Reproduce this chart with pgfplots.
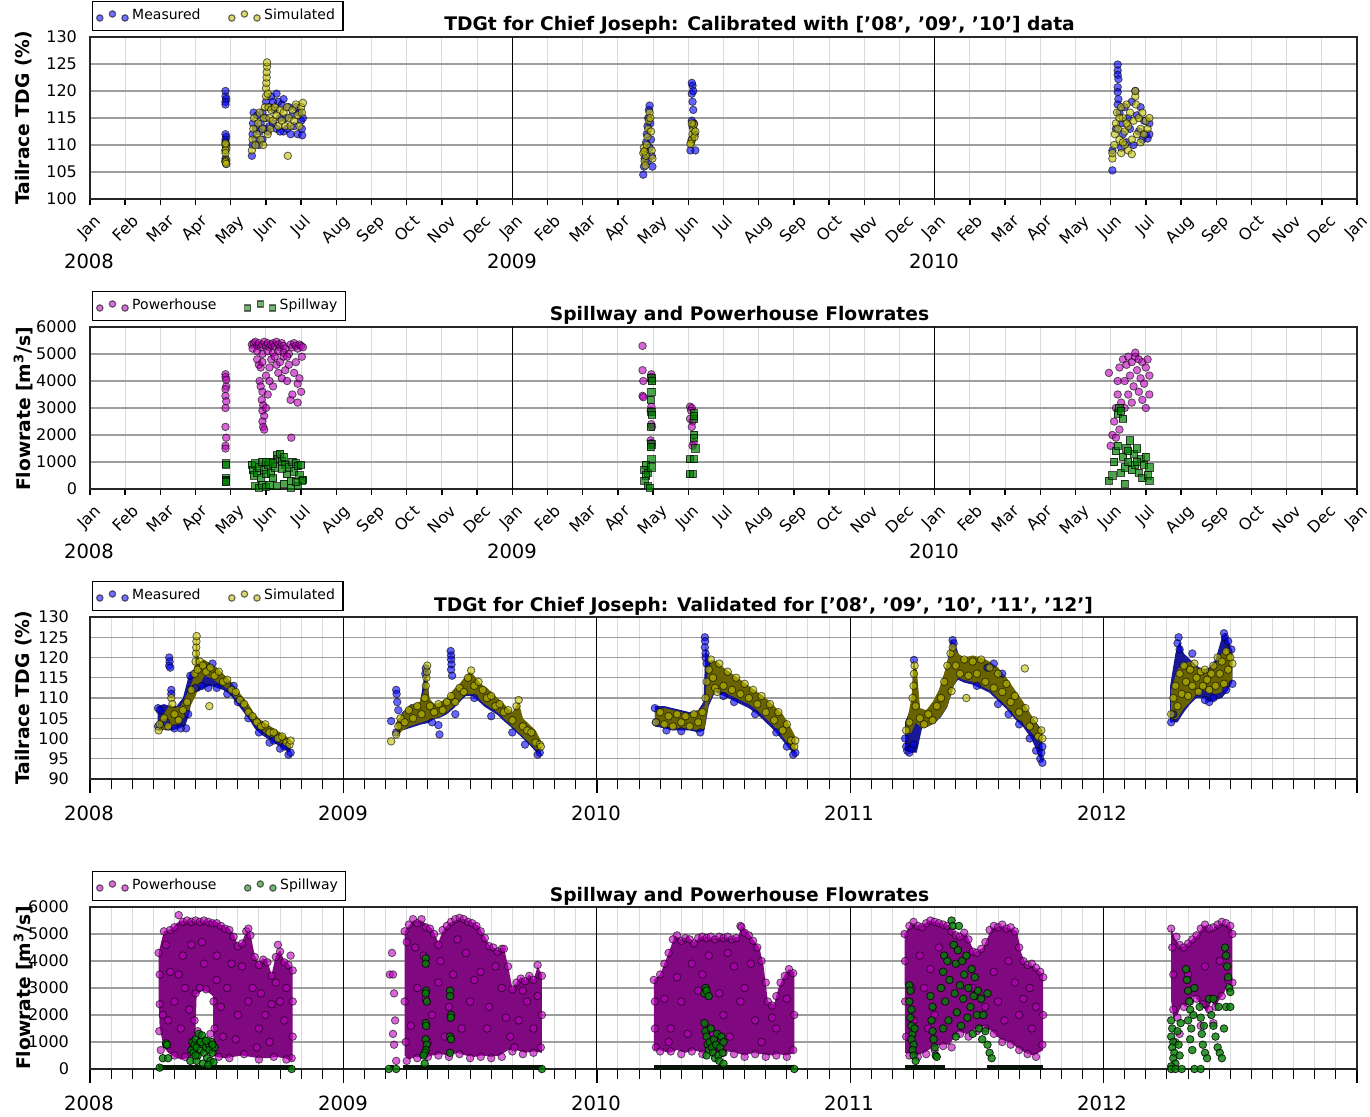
\documentclass[border=0pt]{standalone}
\usepackage{fontspec}
\setmainfont{DejaVu Sans}
\usepackage{graphicx}
\usepackage{pgfplots}
\pgfplotsset{compat=1.18}
\definecolor{myel}{rgb}{0.75,0.75,0}
\definecolor{mmag}{rgb}{0.75,0,0.75}
\definecolor{mgreen}{rgb}{0,0.5,0}
\definecolor{dblue}{RGB}{25,25,150}
\definecolor{dyel}{RGB}{105,100,0}
\definecolor{dmag}{RGB}{128,8,128}
\definecolor{zeroc}{RGB}{8,20,8}
\newcommand{\rb}[1]{\rotatebox{45}{#1}}
\pgfplotsset{
  base/.style={scale only axis, width=633.5pt, height=81pt,
    axis line style={black!85, line width=0.9pt},
    ymajorgrids, major grid style={black!38, line width=0.6pt},
    xminorgrids, minor grid style={black!14, line width=0.5pt},
    ytick style={draw=none},
    tick label style={font=\fontsize{8}{9}\selectfont},
    /pgf/number format/assume math mode=true, /pgf/number format/1000 sep={},
    scaled y ticks=false, xtick pos=bottom, tick align=outside,
    major tick style={black, line width=0.7pt}, minor tick style={black, line width=0.5pt},
    legend style={at={(0.0016,1.037)}, anchor=south west, draw=black, line width=0.6pt,
      font=\fontsize{7}{8.5}\selectfont, inner xsep=2pt, inner ysep=1.8pt, legend columns=2,
      /tikz/every even column/.append style={column sep=12pt}},
    legend cell align=left,
    legend image code/.code={\draw[##1] plot coordinates {(0pt,-1pt)(6.3pt,1pt)(12.6pt,-1pt)};},
  },
  meas/.style={only marks, mark=*, mark size=1.9pt, mark options={draw=black, fill=blue, opacity=0.6}, forget plot},
  sim/.style={only marks, mark=*, mark size=1.9pt, mark options={draw=black, fill=myel, opacity=0.6}, forget plot},
  ph/.style={only marks, mark=*, mark size=1.9pt, mark options={draw=black, fill=mmag, opacity=0.6}, forget plot},
  sp/.style={only marks, mark=*, mark size=1.9pt, mark options={draw=black, fill=mgreen, opacity=0.8}, forget plot},
  spsq/.style={only marks, mark=square*, mark size=1.8pt, mark options={draw=black, fill=mgreen, opacity=0.7}, forget plot},
  measL/.style={only marks, mark=*, mark size=1.6pt, mark options={draw=black, fill=blue, opacity=0.55}},
  simL/.style={only marks, mark=*, mark size=1.6pt, mark options={draw=black, fill=myel, opacity=0.55}},
  phL/.style={only marks, mark=*, mark size=1.6pt, mark options={draw=black, fill=mmag, opacity=0.55}},
  spL/.style={only marks, mark=*, mark size=1.6pt, mark options={draw=black, fill=mgreen, opacity=0.55}},
  spsqL/.style={only marks, mark=square*, mark size=1.5pt, mark options={draw=black, fill=mgreen, opacity=0.55}},
  yearline/.style={black, line width=0.5pt, forget plot},
  dense/.style={draw=none, fill=#1, forget plot},
  zeroline/.style={zeroc, line width=3.8pt, forget plot},
  months/.style={xmin=0, xmax=36, xtick={0,...,36}, minor xtick={0,...,36}, minor tick length=0pt, major tick length=3pt,
    xticklabels={\rb{Jan},\rb{Feb},\rb{Mar},\rb{Apr},\rb{May},\rb{Jun},\rb{Jul},\rb{Aug},\rb{Sep},\rb{Oct},\rb{Nov},\rb{Dec},\rb{Jan},\rb{Feb},\rb{Mar},\rb{Apr},\rb{May},\rb{Jun},\rb{Jul},\rb{Aug},\rb{Sep},\rb{Oct},\rb{Nov},\rb{Dec},\rb{Jan},\rb{Feb},\rb{Mar},\rb{Apr},\rb{May},\rb{Jun},\rb{Jul},\rb{Aug},\rb{Sep},\rb{Oct},\rb{Nov},\rb{Dec},\rb{Jan}},
    x tick label style={anchor=north, yshift=-1pt}},
  years/.style={xmin=0, xmax=60, xtick={0,12,...,60}, minor xtick={0,...,60}, xticklabels={},
    major tick length=7pt, minor tick length=5pt},
}
\newcommand{\ttl}{\bfseries\fontsize{9.35}{11}\selectfont}
\newcommand{\yr}{\fontsize{9.8}{11}\selectfont}
\begin{document}
\begin{tikzpicture}
\useasboundingbox (0,0) rectangle (685pt,-558.5pt);
%================ Panel 1
\begin{axis}[base, months, at={(45pt,-18.5pt)}, anchor=north west, ymin=100, ymax=130, ytick={100,105,...,130}]
\addlegendimage{measL}\addlegendentry{Measured}
\addlegendimage{simL}\addlegendentry{Simulated}
\addplot[yearline] coordinates {(12,100)(12,130)};
\addplot[yearline] coordinates {(24,100)(24,130)};
\addplot[meas] coordinates {(3.85,120)(3.85,119)(3.87,118.5)(3.85,118)(3.85,117.5)(3.85,112)(3.87,111.5)(3.85,111)(3.85,110.5)(3.87,110)(3.85,109)(3.85,107.5)(3.85,107)(3.87,106.5)
(4.6,108)(4.62,110)(4.62,112)(4.63,114)(4.65,116)(4.7,111)(4.72,113)(4.75,115.5)(4.8,110)(4.82,112.5)(4.85,114)(4.9,116)(4.9,111)(4.95,113)(5.0,118)(5.0,115)(5.05,112.5)(5.1,117)(5.15,119)(5.2,114)(5.25,116.5)(5.3,119.5)(5.3,113)(5.35,118)(5.4,115)(5.45,117.5)(5.5,112.5)(5.5,118.5)(5.55,115)(5.6,113)(5.65,117)(5.7,112)(5.75,115.5)(5.8,113.5)(5.85,117)(5.9,112)(5.95,116)(6.0,114.5)(6.03,111.8)(6.05,115)(6.02,113)(5.4,112.5)(5.2,118)(5.1,113.5)
(15.72,104.5)(15.74,106)(15.76,107.5)(15.78,109)(15.8,110.5)(15.82,112)(15.84,113.5)(15.86,115)(15.88,116.5)(15.9,117.3)(15.92,114)(15.94,111)(15.96,108)(15.98,106)(15.9,109.5)(15.85,107)
(17.06,109)(17.2,109)(17.1,111)(17.12,113.5)(17.1,114.5)(17.14,116.5)(17.12,118)(17.1,119.5)(17.12,121)(17.1,121.5)(17.14,120)(17.16,114)(17.18,112)
(29.05,105.3)(29.05,109)(29.2,124.9)(29.2,123.8)(29.2,123)(29.22,122.2)(29.2,120.7)(29.2,119.8)(29.22,118.5)(29.2,117.5)(29.25,116)(29.3,114)(29.35,112)(29.4,117)(29.45,110.5)(29.5,115)(29.55,113)(29.6,118)(29.65,110)(29.7,120)(29.75,115.5)(29.8,112.5)(29.85,117)(29.9,111)(29.95,114.5)(30.0,112)(30.05,111.2)(30.1,112)(30.1,114)(29.3,109.5)(29.15,113)};
\addplot[sim] coordinates {(3.85,110)(3.87,109.5)(3.85,109)(3.85,108.5)(3.87,107.2)(3.85,107)(3.85,106.8)(3.87,106.5)(3.85,110.3)
(4.6,109)(4.62,111)(4.64,113)(4.66,115)(4.7,110)(4.74,112)(4.78,114)(4.82,116)(4.85,111)(4.9,113)(4.95,115)(4.97,117)(5.0,119)(5.0,120.5)(5.01,121.5)(5.02,122.5)(5.02,123.5)(5.03,124.5)(5.03,125.3)(5.05,119.5)(5.07,117)(5.1,115)(5.12,113)(5.15,116.5)(5.2,114.5)(5.25,117)(5.3,115.5)(5.35,113.5)(5.4,116.5)(5.45,114.5)(5.5,116)(5.55,113.5)(5.62,108)(5.6,117)(5.65,115)(5.7,113.5)(5.75,116.5)(5.8,114.5)(5.85,117.5)(5.9,115.5)(5.95,113.5)(6.0,117)(6.02,116)(6.05,117.8)(5.05,112)(4.92,110)
(15.72,108.5)(15.74,109.5)(15.76,107)(15.78,106.2)(15.8,108)(15.82,110)(15.84,111.5)(15.86,113)(15.88,114.5)(15.9,116)(15.92,115)(15.94,112.5)(15.96,109)(15.98,107.5)(15.75,108.8)
(17.08,110.5)(17.1,111)(17.12,112)(17.14,113)(17.16,113.8)(17.1,114)(17.18,111.5)(17.2,112.5)(17.06,110.2)
(29.05,107.5)(29.05,108.5)(29.1,110)(29.12,112)(29.15,114)(29.18,116)(29.2,113)(29.25,111)(29.3,117)(29.3,108.5)(29.35,115)(29.4,112.5)(29.4,110)(29.45,117.5)(29.5,109)(29.5,113.5)(29.55,116)(29.6,111)(29.6,108.3)(29.65,114.5)(29.7,119)(29.7,120)(29.72,117.5)(29.75,112)(29.8,115)(29.85,110.5)(29.85,113)(29.9,116)(29.95,112)(30.0,114.5)(30.05,113)(30.1,115)(29.25,115)(29.35,110.5)(29.45,114)};
\end{axis}
%================ Panel 2
\begin{axis}[base, months, at={(45pt,-163.5pt)}, anchor=north west, ymin=0, ymax=6000, ytick={0,1000,...,6000}]
\addlegendimage{phL}\addlegendentry{Powerhouse}
\addlegendimage{spsqL}\addlegendentry{Spillway}
\addplot[yearline] coordinates {(12,0)(12,6000)};
\addplot[yearline] coordinates {(24,0)(24,6000)};
\addplot[ph] coordinates {(3.85,4250)(3.85,4150)(3.87,3800)(3.85,3700)(3.85,3450)(3.87,3250)(3.85,3000)(3.85,2300)(3.87,1900)(3.85,1600)(3.85,1500)(3.87,4050)
(4.6,5350)(4.65,5400)(4.7,5450)(4.75,5300)(4.8,5400)(4.85,5250)(4.9,5350)(4.95,5450)(5.0,5300)(5.05,5400)(5.1,5250)(5.15,5350)(5.2,5400)(5.25,5300)(5.3,5450)(5.35,5350)(5.4,5250)(5.45,5400)(5.5,5300)(5.55,5200)(5.7,5350)(5.75,5250)(5.8,5400)(5.85,5300)(5.9,5200)(5.95,5350)(6.0,5300)(6.05,5250)
(4.62,5200)(4.75,5100)(4.9,5000)(5.05,5100)(5.2,5050)(5.35,5100)(5.5,5050)(5.65,5000)
(4.8,4600)(4.85,4500)(4.9,4700)(4.82,4000)(4.85,3800)(4.9,3600)(4.88,3300)(4.92,3100)(4.9,2900)(4.95,2700)(4.9,2500)(4.92,2300)(4.95,2200)(5.0,3000)(5.05,3500)(5.0,4200)(5.1,4500)(5.15,4800)(5.2,3800)(5.3,4600)(5.35,4300)(5.4,4700)(5.45,4100)(5.5,4900)(5.55,4400)(5.6,4000)(5.65,4600)(5.7,3300)(5.72,1900)(5.75,3500)(5.8,4300)(5.85,4700)(5.9,3900)(5.95,4100)(6.0,3600)(6.02,4900)(5.9,3200)(5.6,4900)(5.25,4900)(5.1,4000)(4.75,4800)
(15.7,5300)(15.7,4400)(15.72,4000)(15.7,3450)(15.72,3400)(15.95,4250)(15.95,4150)(15.97,4050)(15.95,3050)(15.93,2900)(15.95,2400)(15.97,2300)(15.93,1800)(15.95,1650)(15.95,1700)
(17.05,3050)(17.1,3000)(17.05,2600)(17.12,2500)(17.1,2300)(17.15,1700)(17.12,1600)(17.08,2900)
(28.95,4300)(29.0,1600)(29.05,2000)(29.1,2500)(29.15,3000)(29.2,3500)(29.2,4000)(29.25,4500)(29.3,3200)(29.35,4800)(29.4,4000)(29.45,4600)(29.5,3500)(29.5,4900)(29.55,4200)(29.6,4700)(29.65,3800)(29.7,4900)(29.75,4400)(29.8,3600)(29.8,4800)(29.85,4100)(29.9,4700)(29.95,3900)(30.0,4500)(30.05,4800)(30.1,4200)(30.1,3500)(29.25,2200)(29.4,3000)(29.6,3200)(29.9,3300)(29.7,5050)(30.0,3000)(29.15,1900)};
\addplot[spsq] coordinates {(3.85,950)(3.87,900)(3.85,400)(3.85,350)(3.87,300)(3.85,250)
(4.6,900)(4.62,700)(4.65,500)(4.7,950)(4.75,600)(4.8,800)(4.85,400)(4.9,1000)(4.95,700)(5.0,550)(5.05,900)(5.1,1000)(5.15,600)(5.2,400)(5.25,800)(5.3,1250)(5.35,1100)(5.4,1300)(5.45,1050)(5.5,1200)(5.55,900)(5.6,550)(5.65,800)(5.7,300)(5.75,1000)(5.8,650)(5.85,950)(5.9,850)(5.95,500)(6.0,900)(6.05,350)(6.03,300)(4.7,100)(4.8,50)(4.9,150)(5.0,80)(5.1,150)(5.3,100)(5.5,200)(5.7,50)(5.9,120)(5.85,250)(5.2,950)(5.45,750)(5.0,1000)
(15.95,4100)(15.97,4000)(15.95,3600)(15.93,3300)(15.95,2850)(15.97,2750)(15.93,2300)(15.95,1650)(15.93,1550)(15.95,1100)(15.8,900)(15.75,700)(15.85,600)(15.8,500)(15.75,300)(15.85,100)(15.9,50)(15.95,800)
(17.15,2800)(17.17,2600)(17.15,2700)(17.17,2000)(17.15,1900)(17.2,1500)(17.05,1100)(17.15,1100)(17.05,550)(17.12,550)
(28.95,300)(29.05,500)(29.1,1000)(29.15,1400)(29.2,2800)(29.25,3000)(29.3,2900)(29.35,2600)(29.2,1600)(29.3,600)(29.35,1200)(29.4,800)(29.45,1500)(29.5,1000)(29.55,1800)(29.6,700)(29.65,1300)(29.7,900)(29.75,1500)(29.8,600)(29.85,1100)(29.9,400)(29.95,900)(30.0,1200)(30.05,500)(30.1,800)(30.1,300)(29.5,1400)(29.75,1000)(29.4,200)};
\end{axis}
%================ Panel 3
\begin{axis}[base, years, at={(45pt,-308.5pt)}, anchor=north west, ymin=90, ymax=130, ytick={90,95,...,130}]
\addlegendimage{measL}\addlegendentry{Measured}
\addlegendimage{simL}\addlegendentry{Simulated}
\addplot[yearline] coordinates {(12,90)(12,130)};
\addplot[yearline] coordinates {(24,90)(24,130)};
\addplot[yearline] coordinates {(36,90)(36,130)};
\addplot[yearline] coordinates {(48,90)(48,130)};
% measured dense
\addplot[dense=dblue] coordinates {(3.2,108)(3.5,108.5)(3.8,108)(4.1,108)(4.4,110)(4.7,116)(4.9,117)(5.2,118)(5.5,118.5)(5.8,118)(6.1,117)(6.4,115)(6.7,113.5)(7.0,111.5)(7.3,109)(7.6,106.5)(7.9,105)(8.2,104)(8.5,103)(8.8,102)(9.1,101)(9.4,100)(9.5,99)
(9.5,96.5)(9.3,97)(9.0,98)(8.7,99)(8.4,100)(8.1,101)(7.8,102.5)(7.5,105)(7.2,107)(6.9,109)(6.6,111)(6.3,112)(6.0,112.5)(5.7,113)(5.4,112.5)(5.1,111.5)(4.9,112.5)(4.7,106)(4.5,103)(4.2,102.5)(3.9,102)(3.6,102)(3.3,102.5)(3.2,102.5)};
\addplot[dense=dblue] coordinates {(14.5,103.5)(14.8,106.5)(15.2,108.5)(15.6,108)(15.9,117.5)(16.1,109)(16.5,108)(16.9,108.5)(17.2,111)(17.5,113)(17.8,115)(18.1,115.5)(18.4,113)(18.7,111.5)(19.0,110)(19.3,108.5)(19.6,107)(19.9,105.5)(20.2,104)(20.5,103)(20.8,101.5)(21.1,100.5)(21.35,99)
(21.35,95.8)(21.1,96.8)(20.8,98.5)(20.5,100)(20.2,101.5)(19.9,103)(19.6,104.3)(19.3,105.8)(19.0,106.8)(18.7,107.8)(18.4,109.2)(18.1,110.5)(17.8,110.5)(17.5,109)(17.2,107.3)(16.9,106)(16.6,105.2)(16.3,104.8)(16.0,103.8)(15.7,103.5)(15.4,103)(15.1,102.5)(14.8,102)(14.55,102.5)};
\addplot[dense=dblue] coordinates {(26.75,108)(27.2,108)(27.6,107.5)(28.0,107)(28.4,106.5)(28.8,107)(29.05,109)(29.15,123)(29.3,119)(29.6,118.5)(30.0,117)(30.4,115.5)(30.8,114)(31.2,112.5)(31.6,111)(32.0,109.5)(32.4,107.5)(32.8,105)(33.1,102.5)(33.4,100)
(33.4,96)(33.1,97.5)(32.8,99.5)(32.4,102)(32.0,104)(31.6,106)(31.2,107.5)(30.8,108.5)(30.4,109.5)(30.0,110.5)(29.6,111.5)(29.3,108)(29.1,102)(28.8,101.5)(28.4,102)(28.0,102)(27.6,102)(27.2,102.5)(26.75,103)};
\addplot[dense=dblue] coordinates {(38.6,104)(38.9,108)(39.0,119.5)(39.15,116)(39.3,107)(39.6,106.5)(39.9,108.5)(40.2,111.5)(40.5,116.5)(40.8,124.3)(40.95,123.5)(41.2,120)(41.6,119)(42.0,119)(42.4,118)(42.8,117)(43.2,115)(43.6,113)(44.0,110)(44.4,107)(44.8,104)(45.1,102)
(45.1,94)(44.9,96)(44.6,99.8)(44.2,102.8)(43.8,104.8)(43.4,107.3)(43.0,109.3)(42.6,111.3)(42.2,112.3)(41.8,113.3)(41.4,113.8)(41.1,114.5)(40.9,113)(40.6,107.8)(40.3,105.3)(40.0,103.8)(39.7,103)(39.4,102.5)(39.15,96.5)(38.9,96.5)(38.6,97)};
\addplot[dense=dblue] coordinates {(51.15,113)(51.4,121)(51.6,124)(51.8,121)(52.1,119.5)(52.4,118)(52.7,117)(53.0,117.5)(53.3,119.5)(53.6,125)(53.8,126)(54.0,123)(54.1,121.5)
(54.1,114)(53.9,112)(53.6,110)(53.3,109.5)(53.0,109)(52.7,110)(52.4,110)(52.1,108.5)(51.8,106.5)(51.5,104)(51.15,104)};
\addplot[meas] coordinates {(3.75,120)(3.77,119)(3.75,118)(3.8,117.5)(3.85,112)(3.85,111)(4.65,106)(4.55,102.5)(3.22,107.5)(3.22,103)
(3.3,107)(3.6,104)(4.0,102.5)(4.3,102.5)(4.75,115.5)(5.0,112.5)(5.3,113)(5.6,112.5)(6.0,112.5)(6.5,111)(7.0,109)(7.5,105)(8.0,101.5)(8.5,99)(9.0,97.5)(9.4,96)(9.5,96.5)(9.2,98)(8.7,99.5)(6.8,113)(5.8,118.5)
(14.26,104.3)(14.5,112)(14.52,111)(14.55,109)(14.6,107)(14.5,101.5)(16.5,103.3)(16.55,101)(17.08,121.6)(17.1,120.5)(17.1,119.5)(17.12,118.3)(17.1,117)(17.15,115.5)(15.9,117.3)(15.88,116)(17.3,106)(19.0,105.5)(20.0,101.5)(20.6,98.5)(21.2,96)(21.3,96.5)(18.2,110)(16.2,104)
(26.75,107.5)(26.8,104)(27.3,102)(28.0,101.8)(28.9,101.5)(29.12,125)(29.13,124)(29.12,122.5)(29.15,121)(29.15,120)(29.2,118.5)(30.5,109)(31.5,106)(32.5,101.5)(33.3,96)(33.4,96.5)(33.0,98)(30.0,110.5)
(38.6,100)(38.65,98)(38.7,97)(38.8,96.5)(38.9,97.5)(39.0,98.5)(39.02,119.4)(40.85,124.3)(40.9,123.5)(42.0,113)(42.5,117.5)(43.0,108.5)(43.5,106)(44.0,103.5)(44.5,100)(44.8,97)(45.0,95)(45.1,94)(45.05,96.5)(45.1,98)(43.2,116)(42.8,118.5)
(51.55,125)(51.5,123.5)(51.6,122)(51.2,104)(51.3,106)(52.8,109.5)(53.0,109)(53.2,110)(53.7,126)(53.75,125)(53.9,124)(54.05,122)(53.8,112)(54.1,113.5)(52.2,121)};
% simulated dense
\addplot[dense=dyel] coordinates {(3.25,104)(3.5,106)(3.8,108.5)(4.0,107.5)(4.3,108)(4.6,111)(4.85,114)(4.95,118)(5.0,121)(5.05,125)(5.1,121)(5.2,119)(5.4,119.5)(5.7,118.5)(6.0,117.5)(6.3,116)(6.6,114.5)(6.9,112.5)(7.2,110.5)(7.5,108.5)(7.8,106)(8.1,104.5)(8.4,103.5)(8.7,102.5)(9.0,101.5)(9.3,100.5)(9.5,99.5)
(9.5,97.5)(9.3,98)(9.0,99)(8.7,100)(8.4,101)(8.1,102)(7.8,103.5)(7.5,106)(7.2,108)(6.9,110)(6.6,112)(6.3,113)(6.0,114)(5.7,115)(5.4,115.5)(5.2,113)(5.1,112)(5.0,110.5)(4.8,108.5)(4.6,106)(4.3,104.5)(4.0,103)(3.7,102.5)(3.4,102)(3.25,101.8)};
\addplot[dense=dyel] coordinates {(14.5,104)(14.8,106)(15.0,107.5)(15.3,108.5)(15.6,109)(15.85,112)(15.95,117)(16.05,110)(16.3,108.5)(16.6,109)(16.9,110)(17.2,112)(17.5,113.5)(17.8,115.5)(18.0,116.5)(18.2,115.5)(18.5,113.5)(18.8,112.5)(19.1,111)(19.4,109.5)(19.7,108)(20.0,106.5)(20.3,109)(20.5,105)(20.8,103.5)(21.1,102)(21.35,99.5)
(21.35,96.5)(21.1,97.5)(20.8,99)(20.5,100.5)(20.2,102)(19.9,103.5)(19.6,105)(19.3,106.5)(19.0,107.5)(18.7,108.5)(18.4,110)(18.1,111)(17.8,111)(17.5,109.5)(17.2,108)(16.9,106.5)(16.6,105.5)(16.3,105)(16.0,104.5)(15.7,104)(15.4,103.5)(15.1,103)(14.8,102)(14.55,100.5)};
\addplot[dense=dyel] coordinates {(26.75,107)(27.2,107.5)(27.6,107)(28.0,106.5)(28.4,106)(28.8,107)(29.1,108)(29.25,116)(29.4,119.5)(29.7,119)(30.0,117.5)(30.4,116)(30.8,114.5)(31.2,113)(31.6,111.5)(32.0,110)(32.4,108)(32.8,106)(33.1,103.5)(33.4,100.5)
(33.4,97)(33.1,98.5)(32.8,100.5)(32.4,103)(32.0,105)(31.6,107)(31.2,108.5)(30.8,109.5)(30.4,110.5)(30.0,111.5)(29.6,112)(29.3,109)(29.1,102.5)(28.8,102)(28.4,102.5)(28.0,102.5)(27.6,102.5)(27.2,103)(26.75,103.5)};
\addplot[dense=dyel] coordinates {(38.65,103)(38.9,110)(39.0,118)(39.15,117)(39.3,107.5)(39.6,107)(39.9,109)(40.2,112)(40.5,117)(40.75,121.5)(40.9,122.5)(41.1,121)(41.4,120)(41.8,120.5)(42.2,120)(42.6,119)(43.0,117.5)(43.4,115)(43.8,112)(44.2,109)(44.6,105.5)(44.9,103)(45.1,101.5)
(45.1,99)(44.9,99.5)(44.6,101.5)(44.2,103.5)(43.8,105.5)(43.4,108)(43.0,110)(42.6,112)(42.2,113)(41.8,114)(41.4,114.5)(41.1,115)(40.9,113)(40.6,108)(40.3,105.5)(40.0,104)(39.7,103)(39.4,102.5)(39.1,104)(38.9,101.5)(38.65,101)};
\addplot[dense=dyel] coordinates {(51.2,112)(51.5,117)(51.8,118.5)(52.1,119)(52.4,117.5)(52.7,116.5)(53.0,117)(53.3,118.5)(53.6,121)(53.9,122.5)(54.1,121)
(54.1,115)(53.9,113)(53.6,111.5)(53.3,111)(53.0,111.5)(52.7,112)(52.4,111)(52.1,109)(51.8,107.5)(51.5,105)(51.2,104.5)};
\addplot[sim] coordinates {(3.25,102)(3.3,103.5)(3.5,105)(3.7,103)(3.85,110)(3.9,108.5)(4.0,106)(4.2,104.5)(4.4,107)(4.6,109)(4.8,112)(4.95,116)(5.0,119)(5.02,121)(5.03,122.5)(5.04,124)(5.05,125.3)(5.1,117)(5.2,119)(5.35,118)(5.5,116.5)(5.65,108)(5.7,117.5)(5.9,115.5)(6.1,116.5)(6.3,114)(6.5,114.5)(6.7,112)(6.9,111.5)(7.1,109.5)(7.3,108.5)(7.5,106.5)(7.7,105.5)(7.9,104)(8.1,103)(8.3,103.5)(8.5,101.5)(8.7,101.5)(8.9,100)(9.1,100.5)(9.3,99)(9.45,98.5)(9.5,99.5)
(14.26,99.3)(14.5,101)(14.6,103)(14.7,105)(14.9,104)(15.1,107)(15.3,105)(15.5,108)(15.7,106)(15.85,110)(15.9,113)(15.93,115)(15.95,116.5)(15.97,118)(16.1,108)(16.3,106.5)(16.5,108.5)(16.7,107)(16.9,109)(17.1,110.5)(17.3,109)(17.5,112.5)(17.7,111.5)(17.9,115)(18.05,116.8)(18.2,113)(18.4,114)(18.6,112)(18.8,110)(19.0,110.5)(19.2,108)(19.4,108.5)(19.6,106.5)(19.8,107)(20.0,104.5)(20.2,108)(20.3,109.5)(20.5,103)(20.7,102)(20.9,101.5)(21.1,99)(21.3,98.5)(21.35,98)
(26.8,104)(27.0,106.5)(27.2,103.5)(27.4,105.5)(27.6,103)(27.8,106)(28.0,104)(28.2,105.5)(28.4,103)(28.6,106)(28.8,104)(29.0,106.5)(29.15,110)(29.2,114)(29.3,117)(29.4,119.5)(29.5,115)(29.6,112.5)(29.8,118.5)(30.0,113)(30.2,116.5)(30.4,112)(30.6,115)(30.8,111)(31.0,113.5)(31.2,110)(31.4,112)(31.6,108.5)(31.8,110.5)(32.0,106.5)(32.2,108.5)(32.4,104.5)(32.6,106.5)(32.8,102)(33.0,103.5)(33.2,99.5)(33.35,98)(33.4,99.5)(29.7,111.5)
(38.65,102)(38.8,104)(38.95,110)(39.0,113)(39.02,116)(39.05,118)(39.1,108)(39.3,105)(39.5,103.5)(39.7,106)(39.9,104.5)(40.1,108)(40.3,110)(40.45,114)(40.6,118)(40.75,121)(40.85,122.5)(40.8,111.7)(41.0,118)(41.2,116)(41.4,119.5)(41.5,110)(41.6,115.5)(41.8,119)(42.0,116)(42.2,119.5)(42.4,114)(42.6,117.5)(42.8,112.5)(43.0,116)(43.2,111.5)(43.4,113.5)(43.6,109)(43.8,110.5)(44.0,106.5)(44.27,117.3)(44.3,107.5)(44.5,103)(44.7,104.5)(44.9,100.5)(45.05,102)(45.1,100)
(51.2,106)(51.3,110)(51.4,113)(51.5,108)(51.6,116)(51.7,111)(51.8,118)(51.9,114)(52.0,110.5)(52.1,117)(52.2,113)(52.3,118.5)(52.4,115)(52.5,111.5)(52.6,116.5)(52.7,113)(52.8,117)(52.9,114.5)(53.0,112)(53.1,116)(53.2,118)(53.3,113)(53.4,120)(53.5,116)(53.6,119)(53.7,113.5)(53.8,121.5)(53.9,117)(54.0,120)(54.1,118.5)};
\end{axis}
%================ Panel 4
\begin{axis}[base, years, at={(45pt,-453.5pt)}, anchor=north west, ymin=0, ymax=6000, ytick={0,1000,...,6000}]
\addlegendimage{phL}\addlegendentry{Powerhouse}
\addlegendimage{spL}\addlegendentry{Spillway}
\addplot[yearline] coordinates {(12,0)(12,6000)};
\addplot[yearline] coordinates {(24,0)(24,6000)};
\addplot[yearline] coordinates {(36,0)(36,6000)};
\addplot[yearline] coordinates {(48,0)(48,6000)};
\addplot[dense=dmag] coordinates {(3.25,4300)(3.4,4800)(3.5,5100)(3.7,5150)(3.9,5200)(4.1,5400)(4.3,5500)(5.0,5500)(5.6,5500)(6.0,5450)(6.3,5300)(6.6,5200)(6.8,5000)(7.0,4600)(7.2,4700)(7.4,5100)(7.6,5000)(7.8,4200)(8.0,3900)(8.2,4100)(8.4,4000)(8.6,3500)(8.8,4200)(9.0,4400)(9.2,4000)(9.4,3900)(9.6,3700)
(9.6,300)(9.2,400)(8.8,450)(8.4,400)(8.0,400)(7.6,450)(7.2,500)(6.8,450)(6.4,400)(6.0,450)(5.85,500)(5.82,2700)(5.6,2850)(5.3,2900)(5.05,2750)(5.0,1500)(4.95,500)(4.6,400)(4.3,350)(4.0,450)(3.7,600)(3.5,800)(3.3,1500)(3.25,2500)};
\addplot[dense=dmag] coordinates {(14.9,5100)(15.1,5300)(15.3,5500)(15.7,5500)(16.0,5300)(16.2,5200)(16.5,4700)(16.7,5100)(17.0,5400)(17.3,5500)(17.5,5600)(17.9,5500)(18.2,5400)(18.4,5300)(18.7,4900)(18.9,4600)(19.1,4500)(19.3,4400)(19.6,4500)(19.8,3800)(20.0,3000)(20.2,3200)(20.4,3400)(20.6,3300)(20.8,3500)(21.0,3300)(21.2,3800)(21.4,3500)
(21.4,600)(21.0,650)(20.6,600)(20.2,700)(19.8,700)(19.4,500)(19.0,450)(18.6,500)(18.2,450)(17.8,500)(17.4,600)(17.0,500)(16.6,550)(16.2,500)(15.8,400)(15.4,450)(15.1,350)(14.9,500)};
\addplot[dense=dmag] coordinates {(26.7,3300)(27.0,3500)(27.4,4300)(27.7,4950)(28.0,4800)(28.3,4900)(28.6,4700)(28.9,4900)(29.2,4900)(29.6,4850)(30.0,4900)(30.4,4850)(30.7,4900)(30.85,5300)(31.1,5100)(31.4,4800)(31.7,4500)(31.9,3800)(32.1,2500)(32.4,2400)(32.6,3000)(32.9,3500)(33.1,3700)(33.35,3600)
(33.35,600)(33.0,500)(32.6,550)(32.2,500)(31.8,550)(31.4,600)(31.0,500)(30.6,600)(30.2,650)(29.8,600)(29.4,700)(29.0,600)(28.6,700)(28.2,600)(27.8,700)(27.4,600)(27.0,700)(26.7,700)};
\addplot[dense=dmag] coordinates {(38.57,5000)(38.9,5400)(39.3,5300)(39.8,5500)(40.3,5400)(40.7,5300)(41.1,4900)(41.5,5000)(41.9,4300)(42.3,4500)(42.7,5200)(43.1,5300)(43.6,5200)(43.9,5100)(44.1,4300)(44.3,3900)(44.7,3800)(45.14,3500)
(45.14,700)(44.7,500)(44.3,600)(43.9,800)(43.5,1000)(43.1,1100)(42.7,1400)(42.3,1600)(41.9,1500)(41.5,1300)(41.1,1400)(40.7,900)(40.3,900)(39.9,800)(39.5,600)(39.1,500)(38.6,600)};
\addplot[dense=dmag] coordinates {(51.2,5200)(51.4,4800)(51.7,4500)(51.9,4600)(52.2,4800)(52.5,5000)(52.7,5300)(52.9,5300)(53.1,5100)(53.3,5300)(53.6,5400)(53.8,5350)(54.0,5300)(54.1,5100)
(54.1,3000)(53.9,3200)(53.7,2800)(53.5,2600)(53.3,2300)(53.1,2500)(52.9,2100)(52.7,2300)(52.5,2500)(52.3,2700)(52.1,2600)(51.9,2300)(51.7,2400)(51.5,2000)(51.3,1900)(51.2,2500)};
\addplot[ph] coordinates {(3.25,4300)(3.3,3500)(3.3,2400)(3.28,1400)(3.35,700)(3.5,5100)(3.6,4600)(3.8,5150)(4.0,5250)(4.2,5700)(4.4,5450)(4.6,5500)(4.8,5450)(5.0,5500)(5.2,5450)(5.4,5500)(5.6,5450)(5.8,5400)(6.0,5400)(6.2,5300)(6.4,5200)(6.6,5150)(6.8,4900)(7.0,4550)(7.2,4650)(7.4,5100)(7.5,5200)(7.6,4950)(7.8,4150)(8.0,3850)(8.2,4050)(8.4,3950)(8.6,3450)(8.8,4150)(8.9,4600)(9.0,4350)(9.2,3950)(9.4,3850)(9.5,4200)(9.6,3650)(9.6,2500)(9.6,1200)(9.55,400)(9.3,350)(8.7,450)(8.0,350)(7.3,550)(6.6,400)(6.1,450)(5.9,1500)(5.85,2500)(5.5,2950)(5.2,3000)(5.0,2800)(4.95,1800)(4.9,800)(4.5,450)(4.0,500)(3.6,900)(3.45,2000)(4.5,3000)(4.0,2500)(6.5,3000)(7.0,2000)(7.7,3000)(8.3,2000)(9.0,2500)(6.3,1200)(8.5,1000)(4.3,1500)(5.7,1300)(5.8,900)(5.1,1400)(4.4,4200)(6.0,4200)(7.2,3800)(8.0,1500)(8.8,3200)(3.8,3600)
(3.7,1800)(4.2,3500)(4.7,2200)(4.8,4600)(5.4,3900)(6.2,2300)(6.7,3900)(6.9,1100)(7.5,2500)(7.9,800)(8.1,2800)(8.6,2400)(9.2,1800)(9.3,3000)(6.0,3300)(5.3,4700)
(14.2,3500)(14.3,4300)(14.35,3500)(14.35,1300)(14.4,2800)(14.45,1800)(14.4,900)(14.5,300)(14.9,5100)(15.0,4700)(15.1,5350)(15.3,5550)(15.5,5400)(15.7,5550)(15.9,5250)(16.1,5200)(16.3,5000)(16.5,4600)(16.7,5150)(16.9,5300)(17.1,5450)(17.3,5550)(17.5,5600)(17.7,5550)(17.9,5450)(18.1,5400)(18.3,5300)(18.5,5100)(18.7,4850)(18.9,4550)(19.1,4500)(19.3,4350)(19.5,4450)(19.6,4450)(19.8,3800)(20.0,2950)(20.2,3200)(20.4,3350)(20.6,3250)(20.8,3450)(21.0,3300)(21.2,3850)(21.4,3450)(21.4,2000)(21.35,800)(21.0,600)(20.5,550)(20.0,650)(19.5,450)(19.0,400)(18.5,450)(18.0,400)(17.5,550)(17.0,450)(16.5,500)(16.0,450)(15.5,400)(15.0,300)(14.95,1000)(14.9,2500)(15.5,3000)(16.2,2000)(17.2,3500)(18.0,2500)(18.8,1500)(19.5,3000)(20.3,1800)(16.8,1200)(19.9,1200)(15.8,4200)(17.8,4300)(18.5,3600)(20.7,2500)(16.5,3200)
(15.2,1600)(15.4,4500)(15.9,2600)(16.6,4000)(17.0,2300)(17.6,1500)(18.2,3300)(18.9,2300)(19.2,3800)(19.7,1900)(20.1,800)(20.5,2900)(21.0,1500)(21.2,2700)(17.4,4800)(16.0,1000)
(26.7,3300)(26.75,2500)(26.75,1500)(26.8,800)(27.0,3500)(27.2,3900)(27.4,4300)(27.6,4800)(27.8,4950)(28.0,4750)(28.2,4850)(28.4,4800)(28.6,4650)(28.8,4850)(29.0,4900)(29.2,4850)(29.4,4900)(29.6,4800)(29.8,4900)(30.0,4850)(30.2,4900)(30.4,4800)(30.6,4850)(30.8,5300)(30.85,5250)(31.0,5050)(31.2,4950)(31.4,4750)(31.6,4500)(31.8,4000)(32.0,3200)(32.1,2500)(32.3,2350)(32.5,2700)(32.7,3200)(32.9,3450)(33.1,3700)(33.3,3550)(33.35,2000)(33.3,700)(33.0,450)(32.5,500)(32.0,450)(31.5,550)(31.0,450)(30.5,550)(30.0,600)(29.5,650)(29.0,550)(28.5,650)(28.0,550)(27.5,650)(27.0,650)(28.0,2500)(29.0,3500)(30.0,2000)(31.0,3000)(32.5,1500)(27.5,1500)(28.5,3900)(30.5,3800)(31.5,1800)(29.5,1300)
(27.2,2600)(27.8,3400)(28.3,1300)(28.8,2900)(29.3,4200)(29.8,2800)(30.3,1200)(30.8,2500)(31.3,3900)(31.8,1000)(32.3,1900)(33.0,2600)(27.4,1000)(30.2,4300)
(38.57,5000)(38.6,4000)(38.6,2500)(38.65,1200)(38.8,5300)(39.0,5450)(39.2,5300)(39.4,5250)(39.6,5400)(39.8,5500)(40.0,5450)(40.2,5400)(40.4,5350)(40.6,5300)(40.8,5100)(41.0,4950)(41.2,4900)(41.4,5050)(41.6,4800)(41.8,4350)(42.0,4300)(42.2,4450)(42.4,4700)(42.6,5150)(42.8,5300)(43.0,5250)(43.2,5350)(43.4,5200)(43.6,5250)(43.8,5100)(44.0,4500)(44.2,4000)(44.4,3850)(44.6,3900)(44.8,3750)(45.0,3600)(45.14,3400)(45.14,2000)(45.1,900)(44.8,450)(44.4,550)(44.0,700)(43.6,900)(43.2,1000)(42.8,1300)(42.4,1500)(42.0,1400)(41.6,1200)(41.2,1300)(40.8,800)(40.4,850)(40.0,700)(39.6,550)(39.2,450)(38.8,500)(39.5,3000)(40.0,2000)(41.8,3000)(43.0,2500)(44.0,2000)(44.6,1500)(39.0,1800)(39.3,4200)(43.5,4000)(44.5,3000)
(39.8,3700)(40.2,4500)(38.9,3000)(39.7,1500)(42.8,3600)(43.3,1800)(44.2,2600)(44.8,2300)(43.8,3200)(42.4,2300)
(51.2,5200)(51.25,4500)(51.3,3500)(51.3,2200)(51.45,4900)(51.6,4600)(51.8,4500)(52.0,4650)(52.2,4800)(52.4,4950)(52.6,5200)(52.8,5350)(53.0,5200)(53.2,5250)(53.4,5350)(53.6,5450)(53.8,5400)(54.0,5300)(54.1,5000)(54.1,3200)(53.9,3300)(53.6,2700)(53.3,2300)(53.0,2200)(52.7,2400)(52.4,2600)(52.1,2500)(51.8,2300)(51.5,1900)(52.0,3500)(52.8,3800)(53.5,4000)(51.6,1300)(52.6,1600)(53.2,1700)(51.4,1000)};
\addplot[zeroline] coordinates {(3.2,0)(9.6,0)};
\addplot[zeroline] coordinates {(14.8,0)(21.45,0)};
\addplot[zeroline] coordinates {(14.2,0)(14.4,0)};
\addplot[zeroline] coordinates {(26.7,0)(33.35,0)};
\addplot[zeroline] coordinates {(38.6,0)(40.5,0)};
\addplot[zeroline] coordinates {(42.5,0)(45.14,0)};
\addplot[sp] coordinates {(3.3,50)(3.45,400)(3.6,950)(3.65,900)(3.7,400)(4.75,300)(4.8,700)(4.85,1000)(4.9,600)(4.95,900)(5.0,1100)(5.05,800)(5.1,500)(5.15,1300)(5.2,1000)(5.25,700)(5.3,1250)(5.35,900)(5.4,600)(5.45,1050)(5.5,800)(5.55,400)(5.6,950)(5.65,700)(5.7,300)(5.75,1000)(5.8,600)(5.85,250)(5.9,800)(5.05,300)(5.35,200)(5.6,150)(5.0,500)(5.25,1000)(5.5,1050)(5.8,900)(9.55,0)
(14.15,0)(14.5,0)(15.9,4100)(15.9,3900)(15.92,2900)(15.9,2800)(15.95,2500)(15.9,1700)(15.92,1600)(15.9,1100)(15.95,900)(15.9,700)(15.85,600)(15.8,500)(15.85,200)(17.05,2900)(17.05,2700)(17.1,2000)(17.08,1900)(17.05,1200)(17.1,1100)(17.05,600)(21.4,0)
(29.1,2800)(29.15,3000)(29.2,2900)(29.3,2700)(29.1,1700)(29.15,1400)(29.2,1200)(29.25,900)(29.3,700)(29.35,1000)(29.4,1500)(29.45,800)(29.5,600)(29.55,1100)(29.6,400)(29.65,900)(29.7,1300)(29.75,500)(29.8,300)(29.85,800)(29.9,1200)(29.95,600)(30.0,200)(30.0,1000)(29.2,500)(33.35,0)
(38.8,3100)(38.85,2900)(38.8,2500)(38.9,2200)(38.85,1900)(38.9,1600)(38.95,1300)(38.9,1100)(39.0,900)(38.95,700)(39.0,500)(39.1,300)(39.05,1500)
(39.8,2700)(39.9,2300)(39.85,1800)(39.9,1400)(39.95,1100)(40.0,800)(40.05,500)(40.1,450)
(40.3,3000)(40.4,3600)(40.45,4200)(40.5,2500)(40.6,4000)(40.65,1800)(40.7,3300)(40.8,5500)(40.85,5300)(40.9,4600)(40.95,2800)(41.0,3900)(41.05,2100)(41.1,4400)(41.15,5300)(41.2,3100)(41.25,1600)(41.3,4000)(41.35,2600)(41.4,3500)(41.5,4200)(41.55,1900)(41.6,3000)(41.7,2300)(41.75,3700)(41.8,1300)(41.85,2700)(41.9,3400)(42.0,2000)(42.05,2900)(42.1,1500)(42.2,2600)(42.25,1100)(42.3,2000)(42.4,1400)(42.5,900)(42.6,600)(42.7,400)(42.5,2800)(40.4,1500)(41.0,1200)
(51.2,1800)(51.25,1500)(51.2,1200)(51.3,1000)(51.25,800)(51.35,600)(51.3,400)(51.4,200)(51.2,100)(51.5,1400)(51.55,900)(51.6,500)(51.65,1700)
(51.9,3700)(51.95,3300)(52.0,2900)(52.05,2500)(52.1,2200)(52.0,1800)(52.15,1500)(52.1,1100)(52.2,700)(52.3,3000)(52.25,2000)
(52.55,2300)(52.6,1900)(52.65,1300)(52.7,900)(52.8,600)(52.9,400)(52.75,1600)
(53.0,2600)(53.1,2000)(53.2,1600)(53.3,1200)(53.4,800)(53.5,600)(53.6,400)(53.45,2300)(53.2,2600)
(53.75,4500)(53.8,4200)(53.85,3800)(53.9,3400)(53.95,3000)(54.0,2850)(53.8,2300)(54.0,2300)(53.7,1500)
(51.2,0)(51.4,0)(51.7,0)(52.3,0)(52.6,0)};
\end{axis}
%================ titles and labels
\node[anchor=base, font=\ttl] at (379.75pt,-15.5pt) {TDGt for Chief Joseph: Calibrated with ['08', '09', '10'] data};
\node[anchor=base, font=\ttl] at (369.75pt,-160.5pt) {Spillway and Powerhouse Flowrates};
\node[anchor=base, font=\ttl] at (381.75pt,-305.5pt) {TDGt for Chief Joseph: Validated for ['08', '09', '10', '11', '12']};
\node[anchor=base, font=\ttl] at (369.75pt,-450.5pt) {Spillway and Powerhouse Flowrates};
\node[rotate=90, font=\ttl] at (11.75pt,-59pt) {Tailrace TDG (\%)};
\node[rotate=90, font=\ttl] at (11.75pt,-204.5pt) {Flowrate [m\textsuperscript{3}/s]};
\node[rotate=90, font=\ttl] at (11.75pt,-349pt) {Tailrace TDG (\%)};
\node[rotate=90, font=\ttl] at (11.75pt,-494pt) {Flowrate [m\textsuperscript{3}/s]};
\foreach \x/\t in {44.5/2008,256/2009,467/2010}{
  \node[font=\yr] at (\x pt,-130.5pt) {\t};
  \node[font=\yr] at (\x pt,-275.5pt) {\t};
}
\foreach \x/\t in {44.5/2008,171.5/2009,298/2010,424.5/2011,551/2012}{
  \node[font=\yr] at (\x pt,-406.5pt) {\t};
  \node[font=\yr] at (\x pt,-551.5pt) {\t};
}
\end{tikzpicture}
\end{document}
